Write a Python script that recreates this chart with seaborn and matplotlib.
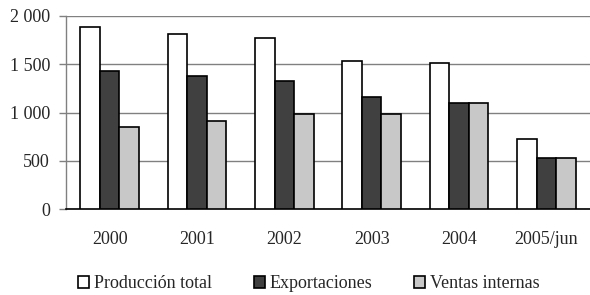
import pandas as pd
import matplotlib.pyplot as plt
import seaborn as sns

# Values
years = ['2000', '2001', '2002', '2003', '2004', '2005/jun']
produccion = [1890, 1815, 1775, 1535, 1515, 730]
exportaciones = [1430, 1380, 1325, 1165, 1095, 530]
ventas = [850, 915, 980, 980, 1095, 530]
series = ['Producción total', 'Exportaciones', 'Ventas internas']
colors = ['#ffffff', '#404040', '#c8c8c8']
yticks = [0, 500, 1000, 1500, 2000]
ytick_labels = ['0', '500', '1 000', '1 500', '2 000']

df = pd.DataFrame({
    'year': years * 3,
    'value': produccion + exportaciones + ventas,
    'serie': [s for s in series for _ in years],
})

sns.set_style('white')
plt.rcParams['font.family'] = ['Liberation Serif', 'DejaVu Serif']

fig = plt.figure(figsize=(5.9, 2.95), dpi=100)
ax = fig.add_axes([66 / 590, 1 - 209 / 295, 1 - 66 / 590, 193 / 295])

sns.barplot(data=df, x='year', y='value', hue='serie', palette=colors,
            width=0.675, edgecolor='black', linewidth=1.2, ax=ax, legend=False,
            zorder=3)

ax.set_ylim(0, 2000)
ax.set_xlim(-0.5, len(years) - 0.5)
ax.set_yticks(yticks)
ax.set_yticklabels(ytick_labels, fontsize=13)
ax.yaxis.grid(True, color='#808080', linewidth=1)
ax.set_axisbelow(True)
ax.set_xlabel('')
ax.set_ylabel('')

# category labels centred, ticks at category boundaries
ax.set_xticks(range(len(years)))
ax.set_xticklabels(years, fontsize=13)
ax.set_xticks([i + 0.5 for i in range(-1, len(years))], minor=True)
ax.tick_params(axis='x', which='major', length=0, pad=16)
ax.tick_params(axis='x', which='minor', length=3.6, width=1, color='#606060', direction='out')
ax.tick_params(axis='y', length=5, width=1, color='#808080', pad=6.5, left=True)

for side in ['top', 'right']:
    ax.spines[side].set_visible(False)
ax.spines['left'].set_color('#808080')
ax.spines['left'].set_linewidth(1)
ax.spines['bottom'].set_color('black')
ax.spines['bottom'].set_linewidth(1.2)

handles = [plt.Rectangle((0, 0), 1, 1, facecolor=c, edgecolor='black', linewidth=1.2)
           for c in colors]
fig.legend(handles, series, loc='center', bbox_to_anchor=(309 / 590, 1 - 284 / 295),
           ncol=3, frameon=False, fontsize=13, handlelength=0.6, handleheight=0.6,
           handletextpad=0.3, columnspacing=2.3, borderpad=0, borderaxespad=0)

fig.savefig('out.png', dpi=100)
